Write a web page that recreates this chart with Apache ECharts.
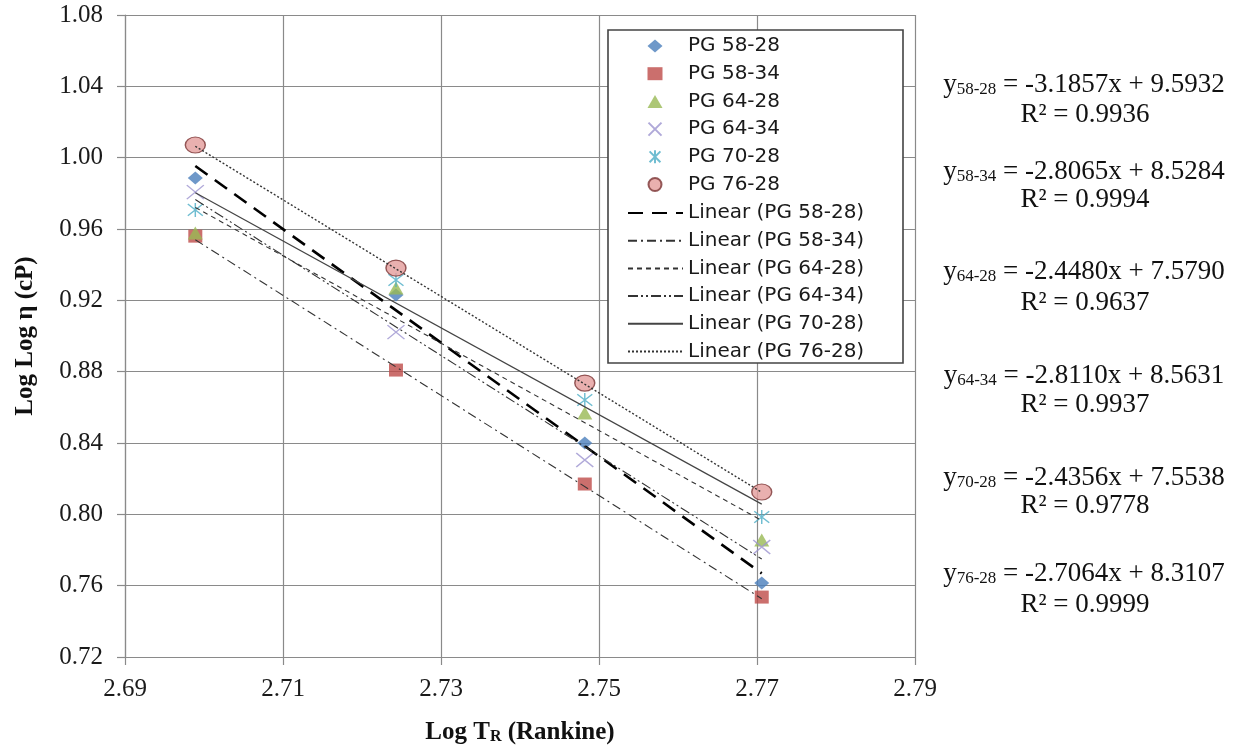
<!DOCTYPE html>
<html>
<head>
<meta charset="utf-8">
<script src="https://cdn.jsdelivr.net/npm/echarts@6/dist/echarts.min.js"></script>
<style>
html,body{margin:0;padding:0;background:#fff;}
#chart{width:1250px;height:746px;}
</style>
</head>
<body>
<div id="chart"></div>
<script>
// ---- data ----
const logTR = [2.6989, 2.7243, 2.7482, 2.7706];
const seriesNames = ['PG 58-28', 'PG 58-34', 'PG 64-28', 'PG 64-34', 'PG 70-28', 'PG 76-28'];
const pg5828 = [0.9886, 0.9230, 0.8400, 0.7615];
const pg5834 = [0.9560, 0.8809, 0.8170, 0.7536];
const pg6428 = [0.9578, 0.9269, 0.8568, 0.7856];
const pg6434 = [0.9807, 0.9022, 0.8305, 0.7817];
const pg7028 = [0.9707, 0.9314, 0.8641, 0.7985];
const pg7628 = [1.0071, 0.9381, 0.8736, 0.8125];
const eqLabels = ['58-28', '58-34', '64-28', '64-34', '70-28', '76-28'];
const slopes = [-3.1857, -2.8065, -2.4480, -2.8110, -2.4356, -2.7064];
const intercepts = [9.5932, 8.5284, 7.5790, 8.5631, 7.5538, 8.3107];
const r2 = [0.9936, 0.9994, 0.9637, 0.9937, 0.9778, 0.9999];
const xTicks = [2.69, 2.71, 2.73, 2.75, 2.77, 2.79];
const yTicks = [0.72, 0.76, 0.80, 0.84, 0.88, 0.92, 0.96, 1.00, 1.04, 1.08];

// ---- layout / style ----
const X0 = xTicks[0];            // axis origin; x is plotted as offset from it
const allY = [pg5828, pg5834, pg6428, pg6434, pg7028, pg7628];
const serif = '"Liberation Serif", "DejaVu Serif", serif';
const sans = '"DejaVu Sans", "Noto Sans", sans-serif';
const trendNames = seriesNames.map(n => 'Linear (' + n + ')');

const markerStyles = [
  { symbol: 'diamond', symbolSize: [15, 13], itemStyle: { color: '#4A7EBB' } },
  { symbol: 'rect', symbolSize: [14, 13], itemStyle: { color: '#BE4B48' } },
  { symbol: 'triangle', symbolSize: [15, 13], itemStyle: { color: '#98B954' } },
  { symbol: 'path://M0,0L10,10M10,0L0,10', symbolSize: [17, 14],
    itemStyle: { color: 'rgba(0,0,0,0)', borderColor: '#9C93D0', borderWidth: 1.4 } },
  { symbol: 'path://M0,0L10,10M10,0L0,10M5,-1L5,11', symbolSize: [15, 14],
    itemStyle: { color: 'rgba(0,0,0,0)', borderColor: '#4BACC6', borderWidth: 1.4 } },
  { symbol: 'circle', symbolSize: [20, 16],
    itemStyle: { color: '#E39C9B', borderColor: '#7A3535', borderWidth: 1.3 } }
];
const trendStyles = [
  { color: '#000', width: 2.6, type: [15, 9] },
  { color: '#333', width: 1.1, type: [9, 4, 2, 4] },
  { color: '#333', width: 1.1, type: [5, 4] },
  { color: '#333', width: 1.1, type: [10, 3, 2, 3, 2, 3] },
  { color: '#444', width: 1.2, type: 'solid' },
  { color: '#333', width: 1.4, type: [2, 2] }
];

const series = [];
allY.forEach((ys, i) => {
  series.push(Object.assign({
    name: seriesNames[i],
    type: 'scatter',
    z: 3,
    data: logTR.map((x, k) => [x - X0, ys[k]])
  }, markerStyles[i]));
});
slopes.forEach((m, i) => {
  const xa = logTR[0], xb = logTR[logTR.length - 1];
  series.push({
    name: trendNames[i],
    type: 'line',
    z: 4,
    symbol: 'none',
    silent: true,
    itemStyle: { color: 'rgba(0,0,0,0)', borderColor: 'rgba(0,0,0,0)', borderWidth: 0 },
    lineStyle: trendStyles[i],
    data: [[xa - X0, m * xa + intercepts[i]], [xb - X0, m * xb + intercepts[i]]]
  });
});

const eqY = [85, 172, 272, 376, 478, 574];
const r2Y = [115, 200, 303, 405, 506, 605];
const graphics = [{
  type: 'rect', z: 3,
  shape: { x: 608, y: 30, width: 295, height: 333 },
  style: { fill: '#fff', stroke: '#444', lineWidth: 1.6 }
}];
eqLabels.forEach((lab, i) => {
  graphics.push({
    type: 'text', x: 1084, y: eqY[i],
    style: {
      text: 'y{s|' + lab + '} = ' + slopes[i].toFixed(4) + 'x + ' + intercepts[i].toFixed(4),
      font: '27px ' + serif, fill: '#111',
      align: 'center', verticalAlign: 'middle',
      rich: { s: { fontSize: 17, fontFamily: serif, fill: '#111', verticalAlign: 'bottom', lineHeight: 12 } }
    }
  });
  graphics.push({
    type: 'text', x: 1085, y: r2Y[i],
    style: {
      text: 'R² = ' + r2[i].toFixed(4),
      font: '27px ' + serif, fill: '#111',
      align: 'center', verticalAlign: 'middle'
    }
  });
});

const legendText = { fontFamily: sans, fontSize: 20, color: '#1a1a1a', lineHeight: 20 };

const chart = echarts.init(document.getElementById('chart'));
chart.setOption({
  animation: false,
  backgroundColor: '#fff',
  grid: { left: 125, right: 335, top: 15, bottom: 89, containLabel: false, outerBoundsMode: 'none' },
  xAxis: {
    type: 'value',
    min: 0, max: xTicks[xTicks.length - 1] - X0, interval: xTicks[1] - xTicks[0],
    name: 'Log T{s|R} (Rankine)',
    nameLocation: 'middle', nameGap: 63,
    nameTextStyle: {
      fontFamily: serif, fontWeight: 'bold', fontSize: 25, color: '#111',
      rich: { s: { fontFamily: serif, fontWeight: 'bold', fontSize: 16, color: '#111', verticalAlign: 'bottom', lineHeight: 10 } }
    },
    axisLine: { show: true, lineStyle: { color: '#8a8a8a', width: 1.2 } },
    axisTick: { show: true, length: 8, lineStyle: { color: '#8a8a8a', width: 1.2 } },
    axisLabel: {
      fontFamily: serif, fontSize: 25, color: '#1a1a1a', margin: 20,
      formatter: v => (v + X0).toFixed(2)
    },
    splitLine: { show: true, lineStyle: { color: '#8a8a8a', width: 1.2 } }
  },
  yAxis: {
    type: 'value',
    min: yTicks[0], max: yTicks[yTicks.length - 1], interval: yTicks[1] - yTicks[0],
    name: 'Log Log η (cP)',
    nameLocation: 'middle', nameGap: 87,
    nameTextStyle: { fontFamily: serif, fontWeight: 'bold', fontSize: 25, color: '#111' },
    axisLine: { show: true, lineStyle: { color: '#8a8a8a', width: 1.2 } },
    axisTick: { show: true, length: 8, lineStyle: { color: '#8a8a8a', width: 1.2 } },
    axisLabel: {
      fontFamily: serif, fontSize: 25, color: '#1a1a1a', margin: 22,
      formatter: v => v.toFixed(2)
    },
    splitLine: { show: true, lineStyle: { color: '#8a8a8a', width: 1.2 } }
  },
  legend: [{
    orient: 'vertical', z: 5,
    left: 647.5, top: 36, padding: 0,
    itemWidth: 15, itemHeight: 13, itemGap: 7.7,
    selectedMode: false,
    formatter: n => '{g|}' + n,
    textStyle: Object.assign({ rich: { g: { width: 20.5, lineHeight: 20 } } }, legendText),
    data: seriesNames
  }, {
    orient: 'vertical', z: 5,
    left: 627, top: 203, padding: 0,
    itemWidth: 55, itemHeight: 14, itemGap: 7.7,
    selectedMode: false,
    textStyle: legendText,
    data: trendNames
  }],
  graphic: graphics,
  series: series
});
</script>
</body>
</html>
